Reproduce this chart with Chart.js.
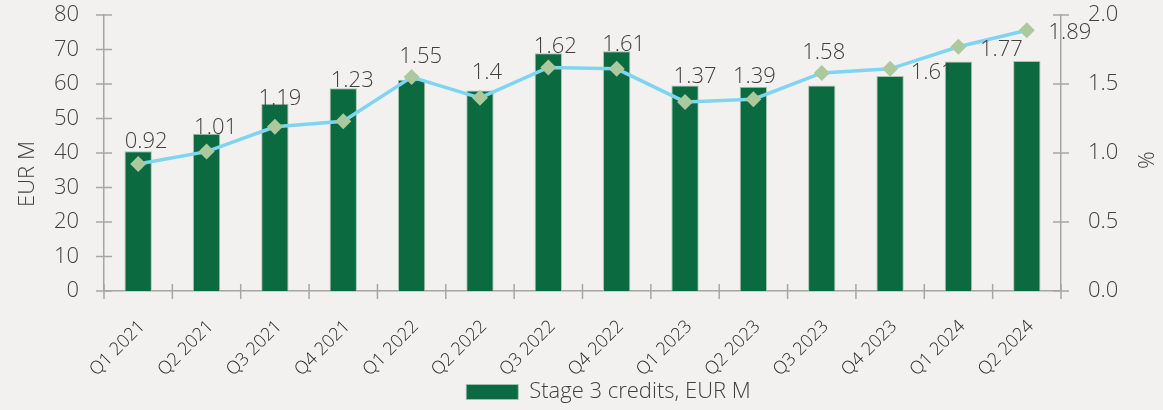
<!DOCTYPE html>
<html>
<head>
<meta charset="utf-8">
<script src="https://cdn.jsdelivr.net/npm/chart.js@4/dist/chart.umd.min.js"></script>
<style>
  html, body { margin: 0; padding: 0; background: #f2f1ef; }
  #wrap { width: 1163px; height: 410px; }
</style>
</head>
<body>
<div id="wrap"><canvas id="graphique"></canvas></div>
<script>
var quarters = ["Q1 2021", "Q2 2021", "Q3 2021", "Q4 2021", "Q1 2022", "Q2 2022", "Q3 2022",
  "Q4 2022", "Q1 2023", "Q2 2023", "Q3 2023", "Q4 2023", "Q1 2024", "Q2 2024"];
var stage3 = [40.5, 45.6, 54.3, 58.8, 61.2, 58.1, 68.9, 69.5, 59.6, 59.2, 59.6, 62.3, 66.5, 66.7];
var ratio = [0.92, 1.01, 1.19, 1.23, 1.55, 1.4, 1.62, 1.61, 1.37, 1.39, 1.58, 1.61, 1.77, 1.89];
var leftTicks = [0, 10, 20, 30, 40, 50, 60, 70, 80];
var rightTicks = [0, 0.5, 1.0, 1.5, 2.0];

// where each ratio label sits relative to its point (Excel placed them by hand)
var labelShift = [[8, -22], [9, -24], [5, -28], [9, -41], [9, -20], [7, -25], [7, -21],
  [7, -24], [10, -25], [1, -22], [2, -20], [42, 4], [43, 3], [43, 3]];

var fam = "'Open Sans', 'Noto Sans', sans-serif";
var axisGrey = "#a6a6a6";

// tick marks crossing the axes, plus axis titles and point labels
var extras = {
  id: "extras",
  beforeDraw: function (chart) {
    // legend sits a bit right of centre and lower in the original
    chart.legend.left += 27;
    chart.legend.right += 27;
    chart.legend.top += 3;
    chart.legend.bottom += 3;
  },
  afterDatasetsDraw: function (chart) {
    var ctx = chart.ctx;
    var x = chart.scales.x, yl = chart.scales.y, yr = chart.scales.y1;
    ctx.save();
    ctx.strokeStyle = axisGrey;
    ctx.lineWidth = 1.5;
    ctx.beginPath();
    leftTicks.forEach(function (v) {
      var py = yl.getPixelForValue(v);
      ctx.moveTo(x.left - 8, py); ctx.lineTo(x.left + 8, py);
    });
    rightTicks.forEach(function (v) {
      var py = yr.getPixelForValue(v);
      ctx.moveTo(x.right - 8, py); ctx.lineTo(x.right + 8, py);
    });
    for (var i = 0; i <= quarters.length; i++) {
      var px = x.getPixelForValue(i - 0.5);
      ctx.moveTo(px, yl.bottom - 7); ctx.lineTo(px, yl.bottom + 8);
    }
    ctx.stroke();

    ctx.fillStyle = "#404040";
    ctx.font = "300 22px " + fam;
    ctx.textAlign = "center";
    ctx.textBaseline = "middle";
    ctx.save();
    ctx.translate(28, 174);
    ctx.rotate(-Math.PI / 2);
    ctx.fillText("EUR M", 0, 0);
    ctx.restore();
    ctx.save();
    ctx.translate(1148, 160);
    ctx.rotate(-Math.PI / 2);
    ctx.fillText("%", 0, 0);
    ctx.restore();

    // ratio labels next to the line points
    var meta = chart.getDatasetMeta(0);
    ctx.font = "300 22px " + fam;
    meta.data.forEach(function (pt, i) {
      ctx.fillText(String(ratio[i]), pt.x + labelShift[i][0], pt.y + labelShift[i][1]);
    });
    ctx.restore();
  }
};

function noPad(s) {
  s.paddingTop = 0;
  s.paddingBottom = 0;
}

new Chart(document.getElementById("graphique"), {
  data: {
    labels: quarters,
    datasets: [
      {
        type: "line",
        label: "Stage 3 ratio, %",
        data: ratio,
        yAxisID: "y1",
        borderColor: "#7fd4f1",
        borderWidth: 3.5,
        pointStyle: "rectRot",
        pointRadius: 8,
        pointBackgroundColor: "#abc99c",
        pointBorderColor: "#abc99c",
        pointBorderWidth: 0,
        tension: 0,
        order: 0
      },
      {
        type: "bar",
        label: "Stage 3 credits, EUR M",
        data: stage3,
        yAxisID: "y",
        backgroundColor: "#0c6a40",
        borderColor: "#a9c2b3",
        borderWidth: { left: 1, right: 1, top: 1, bottom: 0 },
        categoryPercentage: 1,
        barPercentage: 0.4,
        order: 1
      }
    ]
  },
  options: {
    responsive: true,
    maintainAspectRatio: false,
    animation: false,
    events: [],
    layout: { padding: { top: 15, left: 0, right: 0, bottom: 0 } },
    plugins: {
      tooltip: { enabled: false },
      legend: {
        position: "bottom",
        labels: {
          filter: function (item) { return item.datasetIndex === 1; },
          boxWidth: 52,
          boxHeight: 15,
          padding: 3,
          color: "#404040",
          font: { family: fam, size: 22, weight: 300 }
        }
      }
    },
    scales: {
      x: {
        offset: true,
        grid: { display: false, drawTicks: false },
        border: { color: axisGrey, width: 1.5 },
        ticks: {
          minRotation: 45,
          maxRotation: 45,
          padding: 25,
          labelOffset: 4,
          color: "#262626",
          font: { family: fam, size: 18, weight: 300 }
        },
        afterFit: function (s) { s.height = 84; s.paddingLeft = 0; s.paddingRight = 0; }
      },
      y: {
        position: "left",
        min: 0,
        max: 80,
        grid: { display: false, drawTicks: false },
        border: { color: axisGrey, width: 1.5 },
        afterBuildTicks: function (s) { s.ticks = leftTicks.map(function (v) { return { value: v }; }); },
        ticks: {
          padding: 25,
          color: "#404040",
          font: { family: fam, size: 22, weight: 300 }
        },
        afterFit: function (s) { s.width = 104; noPad(s); }
      },
      y1: {
        position: "right",
        min: 0,
        max: 2,
        grid: { display: false, drawTicks: false },
        border: { color: axisGrey, width: 1.5 },
        afterBuildTicks: function (s) { s.ticks = rightTicks.map(function (v) { return { value: v }; }); },
        ticks: {
          padding: 27,
          color: "#404040",
          font: { family: fam, size: 22, weight: 300 },
          callback: function (v) { return v.toFixed(1); }
        },
        afterFit: function (s) { s.width = 102; noPad(s); }
      }
    }
  },
  plugins: [extras]
});
</script>
</body>
</html>
